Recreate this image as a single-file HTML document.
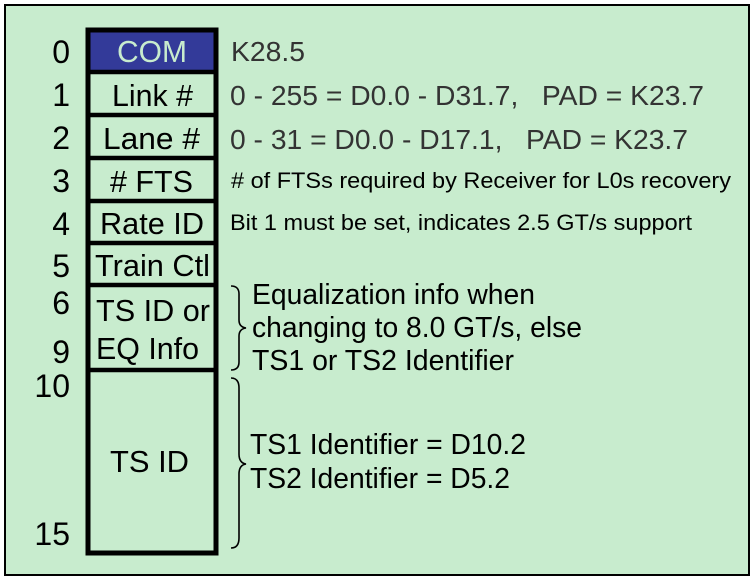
<!DOCTYPE html>
<html><head><meta charset="utf-8"><style>
html,body{margin:0;padding:0;background:#fff;}
svg{display:block;}
text{font-family:"Liberation Sans",Arial,Helvetica,sans-serif;}
</style></head><body>
<svg width="754" height="580" viewBox="0 0 754 580" xmlns="http://www.w3.org/2000/svg" font-family="Liberation Sans, Arial, sans-serif">
<rect x="0" y="0" width="754" height="580" fill="#fff"/>
<rect x="5" y="5" width="744" height="570" fill="#c8ecce" stroke="#000" stroke-width="2"/>
<rect x="88" y="30" width="128" height="523" fill="#c8ecce" stroke="#000" stroke-width="5"/>
<rect x="90.5" y="32.5" width="123" height="38" fill="#333a99"/>
<g stroke="#000" stroke-width="4.5">
<line x1="88" y1="72" x2="216" y2="72"/>
<line x1="88" y1="115" x2="216" y2="115"/>
<line x1="88" y1="158" x2="216" y2="158"/>
<line x1="88" y1="201" x2="216" y2="201"/>
<line x1="88" y1="243" x2="216" y2="243"/>
<line x1="88" y1="285" x2="216" y2="285"/>
<line x1="88" y1="370" x2="216" y2="370"/>
</g>
<g font-size="32" fill="#000" text-anchor="end">
<text x="70" y="63">0</text>
<text x="70" y="106">1</text>
<text x="70" y="149">2</text>
<text x="70" y="192">3</text>
<text x="70" y="235">4</text>
<text x="70" y="277">5</text>
<text x="70" y="314">6</text>
<text x="70" y="363">9</text>
<text x="70" y="397">10</text>
<text x="70" y="545">15</text>
</g>
<g font-size="31" lengthAdjust="spacingAndGlyphs">
<text x="117" y="62" fill="#c8ecce" textLength="70" lengthAdjust="spacingAndGlyphs">COM</text>
<text x="112" y="106" fill="#000" textLength="81" lengthAdjust="spacingAndGlyphs">Link #</text>
<text x="103" y="149" fill="#000" textLength="97" lengthAdjust="spacingAndGlyphs">Lane #</text>
<text x="110" y="192" fill="#000" textLength="83" lengthAdjust="spacingAndGlyphs">#&#160;FTS</text>
<text x="100" y="234" fill="#000" textLength="104" lengthAdjust="spacingAndGlyphs">Rate ID</text>
<text x="95" y="276" fill="#000" textLength="115" lengthAdjust="spacingAndGlyphs">Train Ctl</text>
<text x="96" y="321" fill="#000" textLength="114" lengthAdjust="spacingAndGlyphs">TS ID or</text>
<text x="96" y="359" fill="#000" textLength="103" lengthAdjust="spacingAndGlyphs">EQ Info</text>
<text x="110" y="472" fill="#000" textLength="79" lengthAdjust="spacingAndGlyphs">TS ID</text>
</g>
<g fill="#333" font-size="28">
<text x="231" y="61" textLength="74" lengthAdjust="spacingAndGlyphs">K28.5</text>
<text x="230" y="105" textLength="474" lengthAdjust="spacingAndGlyphs" xml:space="preserve">0 - 255 = D0.0 - D31.7,   PAD = K23.7</text>
<text x="230" y="149" textLength="458" lengthAdjust="spacingAndGlyphs" xml:space="preserve">0 - 31 = D0.0 - D17.1,   PAD = K23.7</text>
</g>
<g fill="#000">
<text x="231" y="188" font-size="22" textLength="500" lengthAdjust="spacingAndGlyphs"># of FTSs required by Receiver for L0s recovery</text>
<text x="230" y="230" font-size="22" textLength="462" lengthAdjust="spacingAndGlyphs">Bit 1 must be set, indicates 2.5 GT/s support</text>
<text x="252" y="304" font-size="29" textLength="283" lengthAdjust="spacingAndGlyphs">Equalization info when</text>
<text x="252" y="337" font-size="29" textLength="330" lengthAdjust="spacingAndGlyphs">changing to 8.0 GT/s, else</text>
<text x="252" y="370" font-size="29" textLength="262" lengthAdjust="spacingAndGlyphs">TS1 or TS2 Identifier</text>
<text x="250" y="454" font-size="29" textLength="276" lengthAdjust="spacingAndGlyphs">TS1 Identifier = D10.2</text>
<text x="250" y="488" font-size="29" textLength="260" lengthAdjust="spacingAndGlyphs">TS2 Identifier = D5.2</text>
</g>
<g fill="none" stroke="#000" stroke-width="1.6">
<path d="M231 286 Q239 286 239 294 L239 320 Q239 327 246 328 Q239 329 239 336 L239 362 Q239 370 231 370"/>
<path d="M231 378 Q239 378 239 388 L239 454 Q239 463 246 464 Q239 465 239 474 L239 538 Q239 548 231 548"/>
</g>
</svg>
</body></html>
